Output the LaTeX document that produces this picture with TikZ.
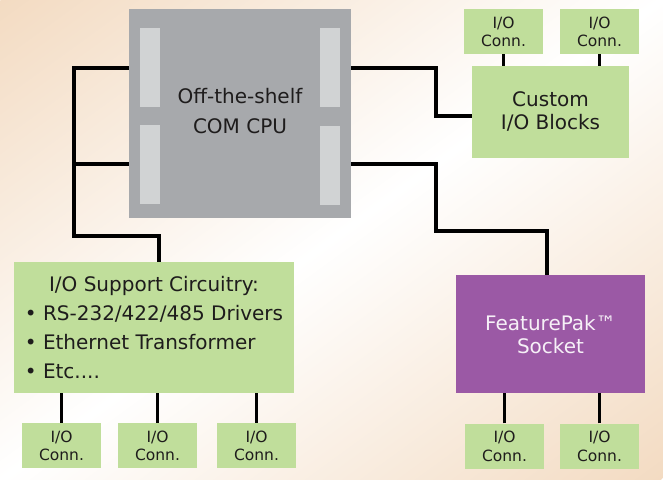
\documentclass[tikz,border=0pt]{standalone}
\usepackage{fontspec}
\setmainfont{DejaVu Sans}
\definecolor{boxgreen}{RGB}{192,222,155}
\definecolor{pakpurple}{RGB}{155,89,165}
\definecolor{cpugray}{RGB}{167,169,172}
\definecolor{slotgray}{RGB}{209,211,212}
\definecolor{peach}{RGB}{243,219,194}
\definecolor{inkdark}{RGB}{30,28,28}
\definecolor{paktext}{RGB}{246,240,247}

\tikzset{
	box/.style={fill=boxgreen, inner sep=0pt, align=center, text=inkdark, font=\fontsize{20}{23}\selectfont},
	conn/.style={box, minimum width=79pt, minimum height=45pt, text depth=0pt, font=\fontsize{15.5}{18.5}\selectfont},
	wire/.style={line width=3.6pt},
	slot/.style={fill=slotgray}
}

\begin{document}
\begin{tikzpicture}[x=1pt,y=-1pt]
	\useasboundingbox (0,0) rectangle (663,479);
	\begin{scope}
		\clip (0,0) rectangle (663,479);
		\begin{scope}[transform canvas={rotate around={36:(331.5,239.5)}}]
			\shade[top color=peach, bottom color=peach, middle color=white] (-168.5,-148.5) rectangle (831.5,627.5);
		\end{scope}
	\end{scope}

	\node[box, fill=cpugray, minimum width=222pt, minimum height=209pt, text depth=6pt, font=\fontsize{20}{30}\selectfont] (cpu) at (240,113.5) {Off-the-shelf\\COM CPU};
	\fill[slot] (140,28) rectangle (160,107);
	\fill[slot] (140,125) rectangle (160,204);
	\fill[slot] (320,28) rectangle (340,107);
	\fill[slot] (320,126) rectangle (340,205);

	\node[box, minimum width=157pt, minimum height=92pt, text depth=2pt] (cust) at (550.5,112) {Custom\\I/O Blocks};
	\node[box, fill=pakpurple, text=paktext, minimum width=189pt, minimum height=118pt, text depth=0pt] (fpak) at (550.5,334) {FeaturePak™\\Socket};
	\node[box, minimum width=280pt, minimum height=131pt, text depth=49pt, font=\fontsize{20}{29}\selectfont] (sup) at (154,327.5) {\begin{tabular}{@{}l@{}}\multicolumn{1}{c}{I/O Support Circuitry:}\\• RS-232/422/485 Drivers\\• Ethernet Transformer\\• Etc....\end{tabular}};

	\node[conn] (t1) at (503.5,31.5) {I/O\\Conn.};
	\node[conn] (t2) at (599.5,31.5) {I/O\\Conn.};
	\node[conn] (c1) at (61.5,445.5) {I/O\\Conn.};
	\node[conn] (c2) at (157.5,445.5) {I/O\\Conn.};
	\node[conn] (c3) at (256.5,445.5) {I/O\\Conn.};
	\node[conn] (f1) at (504.5,446) {I/O\\Conn.};
	\node[conn] (f2) at (599.5,446) {I/O\\Conn.};

	\draw[wire] (cpu.west |- 0,68) -| (74,236) -| (sup.north -| 159,0);
	\draw[wire] (cpu.west |- 0,164) -- (74,164);
	\draw[wire] (cpu.east |- 0,68) -| (436,116) -- (cust.west |- 0,116);
	\draw[wire] (cpu.east |- 0,164) -| (436,231) -| (fpak.north -| 547,0);

	\draw[wire] (t1.south) -- (t1.south |- cust.north);
	\draw[wire] (t2.south) -- (t2.south |- cust.north);
	\draw[wire] (c1.north) -- (c1.north |- sup.south);
	\draw[wire] (c2.north) -- (c2.north |- sup.south);
	\draw[wire] (c3.north) -- (c3.north |- sup.south);
	\draw[wire] (f1.north) -- (f1.north |- fpak.south);
	\draw[wire] (f2.north) -- (f2.north |- fpak.south);
\end{tikzpicture}
\end{document}
